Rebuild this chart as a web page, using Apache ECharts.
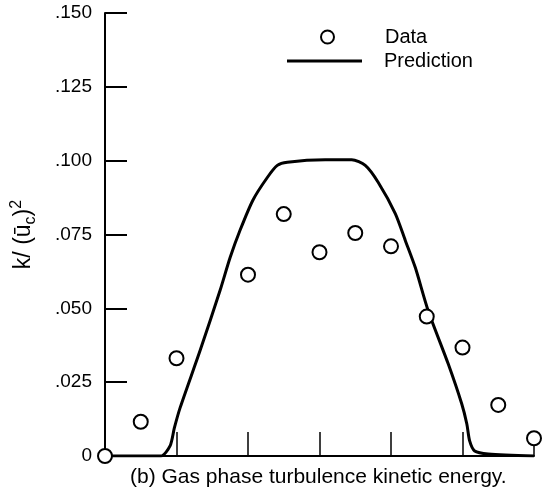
<!DOCTYPE html>
<html>
<head>
<meta charset="utf-8">
<script src="https://cdn.jsdelivr.net/npm/echarts@6/dist/echarts.min.js"></script>
<style>html,body{margin:0;padding:0;background:#fff}#c{width:546px;height:493px}</style>
</head>
<body>
<div id="c"></div>
<script>
// Measured data (circles)
const dataX = [0, 0.5, 1, 2, 2.5, 3, 3.5, 4, 4.5, 5, 5.5, 6];
const dataY = [0, 0.0116, 0.0331, 0.0614, 0.0819, 0.0690, 0.0755, 0.0710, 0.0472, 0.0367, 0.0173, 0.0060];
// Prediction curve
const predX = [0, 0.78, 0.91, 0.97, 1.05, 1.33, 1.61, 1.75, 1.89, 2.07, 2.27, 2.41, 2.55, 3.08, 3.45, 3.64, 3.82, 4.06, 4.20, 4.34, 4.52, 4.80, 4.99, 5.06, 5.10, 5.17, 5.36, 6.0];
const predY = [0, 0, 0.0034, 0.0095, 0.0163, 0.0357, 0.0561, 0.0672, 0.0765, 0.0867, 0.0943, 0.0984, 0.0995, 0.1003, 0.1003, 0.0984, 0.0927, 0.0821, 0.073, 0.0638, 0.0492, 0.0312, 0.0176, 0.0109, 0.0051, 0.0017, 0.0007, 0.0];
// Tick labels
const yTickValues = [0, 0.025, 0.05, 0.075, 0.1, 0.125, 0.15];
const yTickLabels = ['0', '.025', '.050', '.075', '.100', '.125', '.150'];
const seriesNames = ['Data', 'Prediction'];
const caption = '(b) Gas phase turbulence kinetic energy.';

const FONT = 'Liberation Sans, Arial, Helvetica, sans-serif';
const chart = echarts.init(document.getElementById('c'), null, {renderer: 'canvas'});
const zip = (xs, ys) => xs.map((x, i) => [x, ys[i]]);

chart.setOption({
  animation: false,
  backgroundColor: '#fff',
  title: {
    text: caption,
    left: 130, top: 467, padding: 0,
    textStyle: {fontFamily: FONT, fontSize: 21, fontWeight: 'normal', color: '#000'}
  },
  legend: [
    {
      data: [{name: seriesNames[0], icon: 'emptyCircle'}], left: 320, top: 27, padding: 0,
      itemWidth: 13, itemHeight: 13,
      itemStyle: {color: '#000', borderColor: '#000', borderWidth: 2},
      textStyle: {fontFamily: FONT, fontSize: 20, color: '#000', padding: [0, 0, 0, 46]}
    },
    {
      data: [{name: seriesNames[1], icon: 'rect'}], left: 287, top: 51, padding: 0,
      itemWidth: 75, itemHeight: 3,
      itemStyle: {color: '#000'},
      textStyle: {fontFamily: FONT, fontSize: 20, color: '#000', padding: [0, 0, 0, 17]}
    }
  ],
  grid: {left: 105, right: 12, top: 13, bottom: 37},
  xAxis: {
    type: 'value', min: 0, max: 6, interval: 1,
    axisLine: {show: true, onZero: false, lineStyle: {color: '#000', width: 2}},
    axisTick: {show: true, inside: true, length: 24, lineStyle: {color: '#000', width: 1.5}},
    axisLabel: {show: false},
    splitLine: {show: false}
  },
  yAxis: {
    type: 'value', min: 0, max: 0.15, interval: 0.025,
    name: '{a|k/ (ū}{sub|c}{a|)}{sup|2}',
    nameLocation: 'middle', nameRotate: 90, nameGap: 66,
    nameTextStyle: {
      rich: {
        a: {fontFamily: FONT, fontSize: 23, color: '#000', lineHeight: 30, verticalAlign: 'middle'},
        sub: {fontFamily: FONT, fontSize: 16, color: '#000', lineHeight: 15, verticalAlign: 'bottom'},
        sup: {fontFamily: FONT, fontSize: 16, color: '#000', lineHeight: 15, verticalAlign: 'top'}
      }
    },
    axisLine: {show: true, lineStyle: {color: '#000', width: 2}},
    axisTick: {show: true, inside: true, length: 22, lineStyle: {color: '#000', width: 2}},
    axisLabel: {
      margin: 13, color: '#000', fontFamily: FONT, fontSize: 19,
      formatter: v => {
        const i = yTickValues.findIndex(t => Math.abs(t - v) < 1e-9);
        return i >= 0 ? yTickLabels[i] : '';
      }
    },
    splitLine: {show: false}
  },
  series: [
    {
      name: seriesNames[1], type: 'line', data: zip(predX, predY),
      showSymbol: false, symbol: 'none', smooth: 0.25,
      lineStyle: {color: '#000', width: 3}, itemStyle: {color: '#000'}, z: 2
    },
    {
      name: seriesNames[0], type: 'scatter', data: zip(dataX, dataY),
      symbol: 'emptyCircle', symbolSize: 14, clip: false,
      itemStyle: {color: '#000', borderColor: '#000', borderWidth: 2, opacity: 1}, z: 3
    }
  ]
});
</script>
</body>
</html>
